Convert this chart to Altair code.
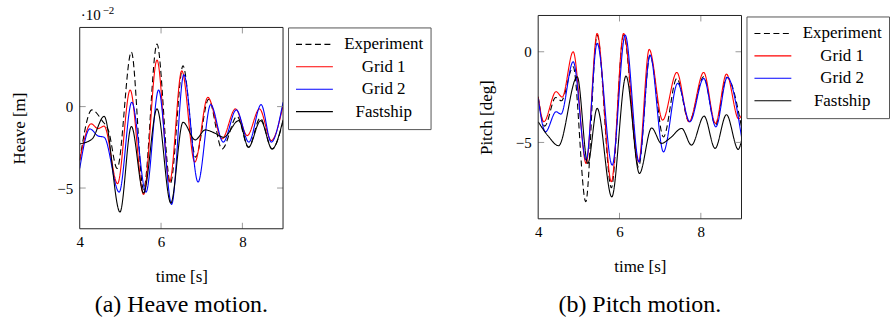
import altair as alt
import pandas as pd

FONT = "Liberation Serif"
SERIES = ["Experiment", "Grid 1", "Grid 2", "Fastship"]
COLORS = ["#000000", "#ff0000", "#0000ff", "#000000"]
DASHES = [[6, 3.5], [1, 0], [1, 0], [1, 0]]

TIME_TICKS = [4, 6, 8]
INNER_X_TICKS = [6, 8]
Y_TICKS = [0, -5]

# ---------------- Heave (units of 1e-2 m) ----------------
heave_exp_t = [4.0, 4.30, 4.55, 4.71, 4.92, 5.27, 5.57, 5.90, 6.23, 6.54, 6.85, 7.17, 7.50, 7.87, 8.15, 8.44, 8.73, 9.0]
heave_exp_v = [-3.3, -0.2, -0.86, -1.5, -3.8, 3.35, -5.1, 3.84, -4.7, 2.5, -3.1, 0.45, -2.6, -0.6, -2.5, -0.7, -2.6, -0.9]

heave_g1_t = [4.0, 4.28, 4.45, 4.6, 4.93, 5.24, 5.57, 5.90, 6.21, 6.51, 6.83, 7.15, 7.50, 7.83, 8.12, 8.42, 8.71, 9.0]
heave_g1_v = [-3.3, -1.06, -1.35, -1.2, -4.73, 1.02, -5.39, 2.86, -4.63, 2.2, -3.41, 0.57, -1.98, -0.14, -1.78, -0.14, -2.08, 0.06]

heave_g2_t = [4.0, 4.25, 4.45, 4.6, 4.97, 5.28, 5.63, 5.94, 6.26, 6.56, 6.91, 7.22, 7.53, 7.85, 8.16, 8.46, 8.71, 9.0]
heave_g2_v = [-3.8, -1.37, -1.8, -1.88, -5.25, 0.27, -5.25, 1.02, -6.0, 1.96, -4.63, 0.12, -2.18, -0.2, -2.18, 0.12, -2.18, 0.27]

heave_fs_t = [4.0, 4.3, 4.6, 4.99, 5.27, 5.57, 5.90, 6.24, 6.54, 6.84, 7.09, 7.3, 7.54, 7.91, 8.15, 8.45, 8.73, 9.0]
heave_fs_v = [-2.29, -2.0, -0.6, -6.47, -1.22, -5.3, -0.14, -5.92, -0.96, -2.04, -1.43, -1.6, -1.88, -0.86, -2.49, -0.86, -2.6, -0.82]

# ---------------- Pitch (deg) ----------------
pitch_exp_t = [4.0, 4.16, 4.43, 4.57, 4.86, 5.17, 5.45, 5.80, 6.10, 6.47, 6.75, 7.08, 7.41, 7.71, 8.07, 8.36, 8.64, 9.0]
pitch_exp_v = [-2.48, -4.1, -2.52, -2.7, -0.83, -8.27, 0.92, -7.5, 0.92, -6.35, -0.2, -4.7, -1.47, -3.86, -1.38, -4.05, -1.41, -4.14]

pitch_g1_t = [4.0, 4.14, 4.44, 4.59, 4.86, 5.18, 5.45, 5.80, 6.10, 6.47, 6.73, 7.06, 7.41, 7.71, 8.07, 8.36, 8.63, 8.93, 9.0]
pitch_g1_v = [-2.48, -3.86, -2.2, -2.5, 0.0, -6.16, 1.01, -7.17, 1.01, -6.07, 0.13, -3.77, -1.14, -3.86, -1.14, -3.95, -1.23, -3.7, -3.5]

pitch_g2_t = [4.0, 4.18, 4.44, 4.56, 4.86, 5.18, 5.45, 5.82, 6.14, 6.48, 6.75, 7.08, 7.43, 7.73, 8.07, 8.37, 8.65, 9.0]
pitch_g2_v = [-2.57, -4.41, -3.31, -3.44, -0.55, -5.97, 0.46, -6.25, 0.92, -6.07, -0.18, -5.52, -1.74, -3.86, -1.47, -4.14, -1.41, -4.69]

pitch_fs_t = [4.0, 4.26, 4.5, 4.96, 5.22, 5.45, 5.81, 6.16, 6.49, 6.79, 7.03, 7.25, 7.53, 7.77, 8.08, 8.35, 8.63, 8.92, 9.0]
pitch_fs_v = [-3.86, -4.69, -5.18, -1.38, -6.16, -3.12, -8.0, -1.34, -6.71, -4.2, -5.05, -4.75, -4.23, -5.15, -3.55, -5.33, -3.47, -5.38, -4.9]


def to_long(*series):
    frames = [pd.DataFrame({"t": ts, "v": vs, "series": name}) for name, ts, vs in series]
    return pd.concat(frames, ignore_index=True)


heave_df = to_long(("Experiment", heave_exp_t, heave_exp_v), ("Grid 1", heave_g1_t, heave_g1_v),
                   ("Grid 2", heave_g2_t, heave_g2_v), ("Fastship", heave_fs_t, heave_fs_v))
pitch_df = to_long(("Experiment", pitch_exp_t, pitch_exp_v), ("Grid 1", pitch_g1_t, pitch_g1_v),
                   ("Grid 2", pitch_g2_t, pitch_g2_v), ("Fastship", pitch_fs_t, pitch_fs_v))


def panel(df, ydom, ytitle, ytitle_pad, W, H, top, legx, legy, caption, cap_offset, title_y=None, extra=()):
    """View is H tall; the framed plot area spans y = top .. H inside it."""
    xs = alt.Scale(domain=[4, 9], nice=False, zero=False)
    ys = alt.Scale(domain=ydom, nice=False, zero=False, range=[H, top])
    legend = alt.Legend(title=None, orient="none", legendX=legx, legendY=legy,
                        symbolType="stroke", symbolSize=1369, symbolStrokeWidth=1.1,
                        clipHeight=20, rowPadding=2.5, padding=7,
                        labelFont=FONT, labelFontSize=17, labelColor="black",
                        labelAlign="center", labelOffset=50, labelLimit=300,
                        strokeColor="#555555", fillColor="white")
    yaxis_kw = dict(values=Y_TICKS, title=ytitle, ticks=False, domain=False, grid=False,
                    labelPadding=7, titlePadding=ytitle_pad, format="d", labelFlush=False)
    if title_y is not None:
        yaxis_kw["titleY"] = title_y
    lines = alt.Chart(df).mark_line(interpolate="monotone", strokeWidth=1.1, clip=True).encode(
        x=alt.X("t:Q", scale=xs,
                axis=alt.Axis(values=TIME_TICKS, title="time [s]", ticks=False, domain=False, grid=False,
                              labelPadding=6, titlePadding=19, format="d", labelFlush=False)),
        y=alt.Y("v:Q", scale=ys, axis=alt.Axis(**yaxis_kw)),
        color=alt.Color("series:N", scale=alt.Scale(domain=SERIES, range=COLORS), legend=legend),
        strokeDash=alt.StrokeDash("series:N", scale=alt.Scale(domain=SERIES, range=DASHES), legend=legend),
    )
    xt = pd.DataFrame({"t": INNER_X_TICKS})
    yt = pd.DataFrame({"v": Y_TICKS})
    tick_style = dict(color="#999999", strokeWidth=1)
    xb = alt.Chart(xt).mark_rule(**tick_style).encode(
        x=alt.X("t:Q", scale=xs), y=alt.value(H), y2=alt.value(H - 6))
    xtp = alt.Chart(xt).mark_rule(**tick_style).encode(
        x=alt.X("t:Q", scale=xs), y=alt.value(top), y2=alt.value(top + 6))
    yl = alt.Chart(yt).mark_rule(**tick_style).encode(
        y=alt.Y("v:Q", scale=ys), x=alt.value(0), x2=alt.value(6))
    yr = alt.Chart(yt).mark_rule(**tick_style).encode(
        y=alt.Y("v:Q", scale=ys), x=alt.value(W - 6), x2=alt.value(W))
    frame = alt.Chart(pd.DataFrame({"k": [0]})).mark_rect(
        fill="white", fillOpacity=0, stroke="#222222", strokeWidth=1
    ).encode(x=alt.value(0), x2=alt.value(W), y=alt.value(top), y2=alt.value(H))
    layers = [lines, xb, xtp, yl, yr, frame] + list(extra)
    return alt.layer(*layers).resolve_scale(color="shared", strokeDash="shared").properties(
        width=W, height=H,
        title=alt.TitleParams(text=caption, orient="bottom", anchor="middle", frame="group",
                              font=FONT, fontSize=24, fontWeight="normal", color="black",
                              offset=cap_offset),
    )


TOP_L = 12  # left frame starts 12 px below the common view top
exp_text = alt.Chart(pd.DataFrame({"s": ["·10"]})).mark_text(
    align="left", baseline="alphabetic", font=FONT, fontSize=15, color="black"
).encode(text="s:N", x=alt.value(1), y=alt.value(TOP_L - 7.5))
exp_pow = alt.Chart(pd.DataFrame({"s": ["−2"]})).mark_text(
    align="left", baseline="alphabetic", font=FONT, fontSize=11, color="black"
).encode(text="s:N", x=alt.value(23), y=alt.value(TOP_L - 13.5))

left = panel(heave_df, [-7.5, 4.86], "Heave [m]", 28, 204, 214, TOP_L, 209, TOP_L,
             "(a) Heave motion.", 9, title_y=(TOP_L + 214) / 2, extra=(exp_text, exp_pow))
right = panel(pitch_df, [-9.21, 2.0], "Pitch [deg]", 20, 204, 204, 0, 209, 1,
              "(b) Pitch motion.", 19)

chart = alt.hconcat(left, right, spacing=256, bounds="flush").resolve_scale(
    color="independent", strokeDash="independent"
).resolve_legend(
    color="independent", strokeDash="independent"
).properties(
    padding={"left": 11, "top": 4, "right": 0, "bottom": 0}
).configure_axis(
    labelFont=FONT, titleFont=FONT, labelFontSize=15, titleFontSize=17,
    labelColor="black", titleColor="black", titleFontWeight="normal"
).configure_view(stroke=None)

chart.save("out.html", embed_options={"renderer": "svg", "actions": False})
